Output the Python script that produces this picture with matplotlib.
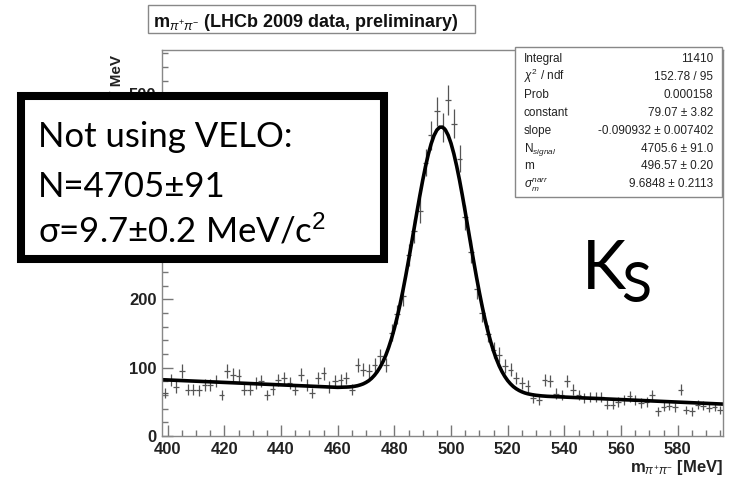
import matplotlib
matplotlib.use('Agg')
import matplotlib.pyplot as plt
from matplotlib.patches import Rectangle
import numpy as np

plt.rcParams['font.family'] = 'Liberation Sans'
plt.rcParams['mathtext.fontset'] = 'custom'
plt.rcParams['mathtext.rm'] = 'Liberation Sans'
plt.rcParams['mathtext.it'] = 'Liberation Sans:italic'
plt.rcParams['mathtext.bf'] = 'Liberation Sans:bold'

# K_S -> pi+ pi- mass histogram, 2 MeV bins (centres 399 ... 595)
bin_centres = np.arange(399, 597, 2)
counts = [63, 82, 72, 95, 68, 68, 67, 75, 75, 80, 60, 95, 90, 88, 68, 68, 78,
          80, 60, 69, 82, 85, 77, 68, 90, 75, 63, 85, 92, 72, 80, 82, 85, 68,
          104, 97, 95, 104, 117, 104, 151, 178, 205, 265, 300, 330, 400, 440,
          475, 452, 492, 457, 406, 320, 270, 215,
          180, 150, 126, 119, 102, 97, 85, 77, 73, 55,
          53, 82, 80, 62, 60, 80, 68, 60, 55, 57,
          57, 57, 46, 46, 50, 53, 58, 53, 48, 50,
          60, 36, 43, 44, 42, 68, 38, 36, 46, 44,
          41, 43, 38]

# fitted curve (gaussian + linear background)
fit_mass = [398, 460] + list(range(462, 531)) + [532, 534, 596]
fit_value = [82.4, 71.2,
             71.5, 71.6, 71.8, 72.2, 72.8, 73.6, 74.8, 76.3, 78.4, 81.0,
             84.5, 88.9, 94.3, 100.9, 108.9, 118.3, 129.6, 142.5, 157.3, 173.9,
             192.2, 212.3, 233.9, 256.7, 280.3, 304.3, 328.4, 351.8, 374.0, 394.4,
             412.5, 427.8, 439.7, 447.8, 452.0, 452.1, 448.2, 440.2, 428.4, 413.2,
             395.1, 374.7, 352.3, 328.6, 304.3, 279.8, 255.8, 232.5, 210.4, 189.7,
             170.7, 153.6, 138.2, 124.6, 112.9, 102.7, 94.2, 87.1, 81.1, 76.3,
             72.3, 69.2, 66.7, 64.7, 63.1, 61.9, 61.0, 60.2, 59.6,
             58.7, 58.1, 46.7]

stat_labels = ['Integral', r'$\chi^2$ / ndf', 'Prob', 'constant', 'slope',
               r'N$_{signal}$', 'm', r'$\sigma_{m}^{narr}$']
stat_values = ['11410', '152.78 / 95', '0.000158', u'79.07 \u00b1 3.82',
               u'-0.090932 \u00b1 0.007402', u'4705.6 \u00b1 91.0',
               u'496.57 \u00b1 0.20', u'9.6848 \u00b1 0.2113']

box_lines = ['Not using VELO:', u'N=4705\u00b191', u'\u03c3=9.7\u00b10.2 MeV/c$^{2}$']

W, H = 729, 482


def fx(x):
    return x / W


def fy(y):
    return 1 - y / H


fig = plt.figure(figsize=(W / 100, H / 100), dpi=100)
ax = fig.add_axes([fx(162), fy(436), (723 - 162) / W, (436 - 50) / H])

ax.errorbar(bin_centres, counts, xerr=1, yerr=np.sqrt(counts), fmt='none',
            ecolor='#555555', elinewidth=0.9, capsize=0)
ax.plot(fit_mass, fit_value, color='black', lw=2.6)

ax.set_xlim(398, 596)
ax.set_ylim(0, 565)
ax.set_xticks(range(400, 600, 20))
ax.set_xticks(range(400, 600, 5), minor=True)
ax.set_yticks(range(0, 600, 100))
ax.set_yticks(range(0, 580, 20), minor=True)
ax.tick_params(which='both', direction='in', color='#777777', width=1,
               top=False, right=False, labelsize=12, labelcolor='#222222')
ax.tick_params(which='major', length=8, pad=4)
ax.tick_params(which='minor', length=4)
for lab in ax.get_xticklabels() + ax.get_yticklabels():
    lab.set_fontweight('bold')
for sp in ax.spines.values():
    sp.set_color('#888888')
    sp.set_linewidth(1)

# axis titles
fig.text(fx(723), fy(472), r'm$_{\pi^{+}\pi^{-}}$ [MeV]', ha='right',
         va='baseline', fontsize=12, fontweight='bold', color='#222222')
fig.text(fx(117), fy(55), 'Events / MeV', rotation=90, ha='center',
         va='top', fontsize=11, fontweight='bold', color='#222222', zorder=2)

# title box
fig.add_artist(Rectangle((fx(148), fy(33)), (475 - 148) / W, 28 / H,
                         transform=fig.transFigure, facecolor='white',
                         edgecolor='#888888', lw=1, zorder=3))
fig.text(fx(153), fy(27), r'm$_{\pi^{+}\pi^{-}}$ (LHCb 2009 data, preliminary)',
         ha='left', va='baseline', fontsize=13, fontweight='bold',
         color='#111111', zorder=4)

# stats box
fig.add_artist(Rectangle((fx(515), fy(197)), (722 - 515) / W, 150 / H,
                         transform=fig.transFigure, facecolor='white',
                         edgecolor='#888888', lw=1, zorder=3))
for i, (lab, val) in enumerate(zip(stat_labels, stat_values)):
    yb = 62 + i * 17.9
    fig.text(fx(524), fy(yb), lab, ha='left', va='baseline', fontsize=8.5,
             color='#222222', zorder=4)
    fig.text(fx(713), fy(yb), val, ha='right', va='baseline', fontsize=8.5,
             color='#222222', zorder=4)

# overlay box with the numbers
fig.add_artist(Rectangle((fx(21), fy(259)), (383.5 - 21) / W, (259 - 96) / H,
                         transform=fig.transFigure, facecolor='white',
                         edgecolor='black', lw=5.8, zorder=10))
for txt, yb in zip(box_lines, [147, 197, 242]):
    fig.text(fx(38), fy(yb), txt, ha='left', va='baseline', fontsize=25,
             family='Lato', color='black', zorder=11)

# K_S label
fig.text(fx(582), fy(289), 'K', ha='left', va='baseline', fontsize=48,
         family='Lato', color='black', zorder=11)
fig.text(fx(621), fy(302), 'S', ha='left', va='baseline', fontsize=40,
         family='Lato', color='black', zorder=11)

fig.savefig('out.png', dpi=100)
